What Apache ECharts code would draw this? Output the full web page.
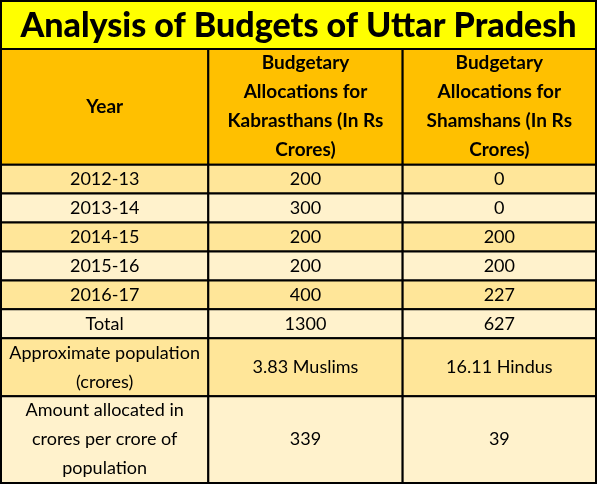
<!DOCTYPE html>
<html>
<head>
<meta charset="utf-8">
<script src="https://cdn.jsdelivr.net/npm/echarts@6/dist/echarts.min.js"></script>
<style>
html,body{margin:0;padding:0;background:#fff;}
#chart{width:598px;height:485px;}
</style>
</head>
<body>
<div id="chart"></div>
<script>
// ---- data ----
const titleText = 'Analysis of Budgets of Uttar Pradesh';
const headers = ['Year',
  'Budgetary\nAllocations for\nKabrasthans (In Rs\nCrores)',
  'Budgetary\nAllocations for\nShamshans (In Rs\nCrores)'];
const years = ['2012-13', '2013-14', '2014-15', '2015-16', '2016-17'];
const kabrasthans = [200, 300, 200, 200, 400];
const shamshans = [0, 0, 200, 200, 227];
const totalLabel = 'Total';
const totals = [1300, 627];
const populationLabel = 'Approximate population\n(crores)';
const populations = ['3.83 Muslims', '16.11 Hindus'];
const perCroreLabel = 'Amount allocated in\ncrores per crore of\npopulation';
const perCrore = [339, 39];

// ---- layout / style (not data) ----
const colWeights = [208, 195, 194];
const lineUnit = 29;            // px per text line
const titleUnits = 48 / lineUnit;
const FONT = 'Lato, "Open Sans", sans-serif';
const C_TITLE = '#FFFF00', C_HEAD = '#FFC000', C_DARK = '#FFE699', C_LIGHT = '#FFF2CC';

const colEdges = [0];
colWeights.forEach(w => colEdges.push(colEdges[colEdges.length - 1] + w));

// Build table rows
const rows = [];
rows.push({ cells: [titleText], span: true, units: titleUnits, fill: C_TITLE, kind: 'title' });
rows.push({ cells: headers, units: 4, fill: C_HEAD, kind: 'head' });
years.forEach((y, i) => rows.push({ cells: [y, String(kabrasthans[i]), String(shamshans[i])], units: 1, fill: i % 2 === 0 ? C_DARK : C_LIGHT, kind: 'body' }));
rows.push({ cells: [totalLabel, String(totals[0]), String(totals[1])], units: 1, fill: C_LIGHT, kind: 'body' });
rows.push({ cells: [populationLabel, populations[0], populations[1]], units: 2, fill: C_DARK, kind: 'body' });
rows.push({ cells: [perCroreLabel, String(perCrore[0]), String(perCrore[1])], units: 3, fill: C_LIGHT, kind: 'body' });

const cells = [];
let yAcc = 0;
rows.forEach(r => {
  const y0 = yAcc, y1 = yAcc + r.units;
  if (r.span) {
    cells.push({ value: [colEdges[0], colEdges[3], y0, y1], text: r.cells[0], fill: r.fill, kind: r.kind });
  } else {
    r.cells.forEach((t, c) => cells.push({ value: [colEdges[c], colEdges[c + 1], y0, y1], text: t, fill: r.fill, kind: r.kind }));
  }
  yAcc = y1;
});
const totalUnits = yAcc;

const fonts = {
  title: { fontSize: 34, fontWeight: 900, lineHeight: 38, dy: 1 },
  head: { fontSize: 19, fontWeight: 'bold', lineHeight: 29, dy: 0 },
  body: { fontSize: 18, fontWeight: 'normal', lineHeight: 29, dy: 0 }
};

const chart = echarts.init(document.getElementById('chart'), null, { renderer: 'canvas' });
chart.setOption({
  animation: false,
  backgroundColor: '#fff',
  grid: { left: 1, right: 2, top: 1, bottom: 2 },
  xAxis: { type: 'value', min: 0, max: colEdges[3], show: false },
  yAxis: { type: 'value', min: 0, max: totalUnits, inverse: true, show: false },
  series: [{
    type: 'custom',
    coordinateSystem: 'cartesian2d',
    encode: { x: [0, 1], y: [2, 3] },
    data: cells.map(c => c.value),
    renderItem: function (params, api) {
      const cell = cells[params.dataIndex];
      const p0 = api.coord([api.value(0), api.value(2)]);
      const p1 = api.coord([api.value(1), api.value(3)]);
      const f = fonts[cell.kind];
      return {
        type: 'group',
        children: [{
          type: 'rect',
          shape: { x: p0[0], y: p0[1], width: p1[0] - p0[0], height: p1[1] - p0[1] },
          style: { fill: cell.fill, stroke: '#000', lineWidth: 2 }
        }, {
          type: 'text',
          x: (p0[0] + p1[0]) / 2,
          y: (p0[1] + p1[1]) / 2 + f.dy,
          style: {
            text: cell.text,
            align: 'center',
            verticalAlign: 'middle',
            fill: '#000',
            fontFamily: FONT,
            fontSize: f.fontSize,
            fontWeight: f.fontWeight,
            lineHeight: f.lineHeight
          }
        }]
      };
    }
  }]
});
</script>
</body>
</html>
